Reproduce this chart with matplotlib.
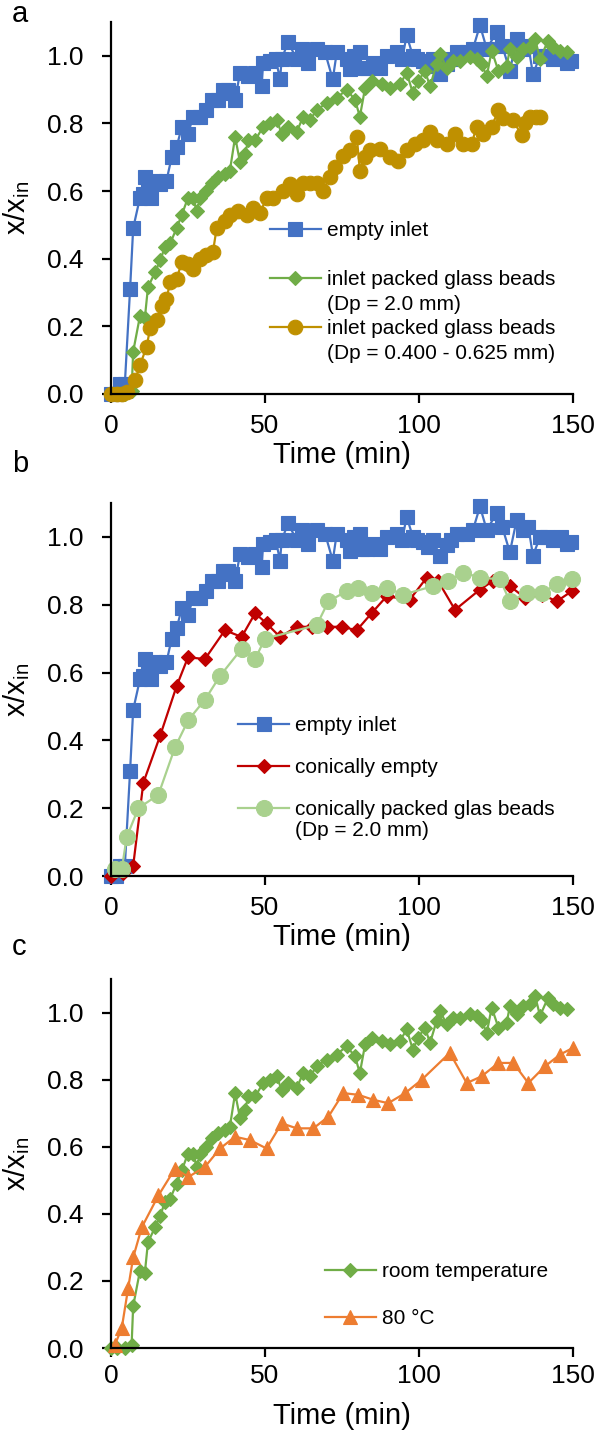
import numpy as np
import matplotlib
matplotlib.use("Agg")
import matplotlib.pyplot as plt
from matplotlib.lines import Line2D
from matplotlib.ticker import FormatStrFormatter

plt.rcParams['font.family'] = ['Liberation Sans', 'DejaVu Sans']
plt.rcParams['mathtext.default'] = 'regular'

# ---- data (time in min, x/x_in) ----
t_empty = [0, 1.5, 3, 4.5, 6.2, 7.2, 9.4, 10.5, 11, 12, 13, 14.3, 16, 18, 19.7, 21.3, 23, 25,
           26.7, 29, 31, 32.7, 34.8, 36.4, 38, 39.2, 40.3, 41.9, 44.6, 46.8, 48.9, 49.4, 51.6,
           53.5, 54.9, 55.4, 57.5, 60.3, 61.9, 64, 66.8, 69.5, 72, 73.3, 76.5, 77.6, 79, 80.8,
           81.4, 83, 85, 87.3, 89.5, 92.8, 94.5, 96, 98, 99.5, 101.3, 103, 104.5, 106.8, 109,
           110.5, 112.2, 115.5, 117.5, 119.8, 122, 125.2, 127, 129.5, 131.7, 133.8, 135.5, 137,
           139.3, 141.5, 143.5, 146, 148, 149.5]
x_empty = [0.0, 0.0, 0.03, 0.03, 0.31, 0.49, 0.58, 0.59, 0.64, 0.62, 0.58, 0.63, 0.62, 0.63, 0.70,
           0.73, 0.79, 0.77, 0.82, 0.82, 0.84, 0.87, 0.87, 0.90, 0.90, 0.89, 0.87, 0.95, 0.94, 0.95,
           0.91, 0.98, 0.985, 0.99, 0.93, 0.99, 1.04, 0.99, 1.02, 0.98, 1.02, 1.01, 0.93, 1.01, 0.99,
           0.96, 1.0, 1.01, 0.965, 0.965, 0.98, 0.965, 1.0, 1.01, 0.99, 1.06, 1.0, 0.99, 0.985, 0.97,
           0.99, 0.945, 0.975, 0.99, 1.01, 1.01, 1.02, 1.09, 1.02, 1.07, 1.03, 0.955, 1.05, 1.02,
           1.03, 0.945, 1.0, 1.0, 0.99, 1.0, 0.98, 0.985]

# inlet packed glass beads Dp = 2.0 mm (same run as "room temperature")
t_beads2 = [0, 2, 4.5, 6.7, 7.2, 9.4, 11, 12, 14.3, 16, 17.5, 19.2, 21.3, 23, 25, 26.7, 27.8, 29,
            31, 32.7, 34.8, 37, 38.6, 40.3, 41.9, 43.5, 44.6, 46.8, 49.4, 51.6, 53.8, 55.4, 57.5,
            60.3, 62.4, 64.6, 66.8, 70, 73.3, 76.5, 79.2, 80.8, 82.5, 84.6, 87.9, 90.6, 93.8, 96,
            98, 99.7, 101.9, 103.6, 105.7, 106.8, 109, 111, 113.3, 116.6, 118.7, 120.3, 122,
            123.6, 125.8, 128.5, 129.5, 131.7, 133.8, 136, 137.7, 139.3, 141.9, 143.5, 145.8, 148]
x_beads2 = [0.0, 0.0, 0.0, 0.01, 0.125, 0.23, 0.225, 0.315, 0.36, 0.395, 0.435, 0.445, 0.49, 0.53,
            0.58, 0.58, 0.54, 0.58, 0.60, 0.625, 0.64, 0.65, 0.66, 0.76, 0.685, 0.71, 0.75, 0.75,
            0.79, 0.80, 0.81, 0.77, 0.79, 0.775, 0.82, 0.81, 0.84, 0.86, 0.875, 0.90, 0.87, 0.82,
            0.905, 0.925, 0.915, 0.905, 0.915, 0.95, 0.89, 0.925, 0.955, 0.91, 0.975, 1.005, 0.965,
            0.985, 0.985, 0.995, 0.99, 0.975, 0.94, 1.015, 0.955, 0.97, 1.02, 0.995, 1.02, 1.025,
            1.05, 0.99, 1.045, 1.025, 1.015, 1.01]

# inlet packed glass beads Dp = 0.400 - 0.625 mm
t_beads04 = [0, 1.9, 3.5, 5.1, 7.8, 9.4, 11.6, 12.7, 14.8, 16.5, 18, 19.2, 21.3, 23, 25, 26.7, 29,
             31, 33.1, 34.3, 37, 38.6, 41.3, 44, 46.1, 48.4, 50.5, 52.6, 55.8, 58.1, 60.3, 62.4,
             64.6, 66.8, 68.8, 71, 72.7, 75.3, 77.6, 79.8, 80.8, 82.5, 84, 87.3, 90.6, 93.2, 96,
             98.7, 101.3, 103.6, 105.7, 109, 111.7, 114.3, 117.1, 118.7, 120.8, 123.6, 125.8,
             127.3, 130.5, 133.3, 134.5, 136, 138, 139.3]
x_beads04 = [0.0, 0.0, 0.0, 0.005, 0.04, 0.085, 0.14, 0.195, 0.22, 0.26, 0.28, 0.33, 0.34, 0.39,
             0.385, 0.37, 0.40, 0.41, 0.42, 0.49, 0.51, 0.53, 0.54, 0.53, 0.55, 0.535, 0.58, 0.58,
             0.60, 0.62, 0.59, 0.625, 0.625, 0.625, 0.60, 0.64, 0.67, 0.705, 0.72, 0.76, 0.66, 0.70,
             0.72, 0.725, 0.70, 0.69, 0.72, 0.74, 0.75, 0.775, 0.75, 0.74, 0.77, 0.74, 0.74, 0.79,
             0.77, 0.79, 0.84, 0.815, 0.81, 0.765, 0.80, 0.82, 0.82, 0.82]

# conically empty
t_con_empty = [0, 4, 7.2, 10.5, 16, 21.3, 25, 30.5, 37, 42.4, 46.8, 50.5, 54.9, 60.3, 65.2, 70,
               74.9, 79.8, 84.6, 89.5, 97, 102.5, 106.2, 111.7, 119.8, 124, 129.5, 134.5, 140,
               144.7, 149.6]
x_con_empty = [0.0, 0.01, 0.03, 0.275, 0.415, 0.56, 0.645, 0.64, 0.725, 0.705, 0.775, 0.745, 0.705,
               0.735, 0.735, 0.735, 0.735, 0.725, 0.775, 0.825, 0.815, 0.88, 0.87, 0.785, 0.845,
               0.87, 0.855, 0.82, 0.83, 0.81, 0.84]

# conically packed glass beads Dp = 2.0 mm
t_con_beads = [1.3, 3.5, 5.1, 8.9, 15.4, 20.8, 25.1, 30.5, 35.4, 42.4, 46.8, 50, 66.8, 70.6, 76.5,
               80.3, 84.6, 89.5, 94.9, 104.6, 109.5, 114.4, 119.8, 126.3, 129.5, 135, 139.8,
               144.7, 149.6]
x_con_beads = [0.02, 0.02, 0.115, 0.20, 0.24, 0.38, 0.46, 0.52, 0.59, 0.67, 0.64, 0.70, 0.74, 0.81,
               0.84, 0.85, 0.835, 0.85, 0.83, 0.855, 0.87, 0.895, 0.88, 0.875, 0.81, 0.835, 0.835,
               0.86, 0.875]

# 80 °C
t_hot = [1.3, 3.5, 5.6, 7.2, 10, 15.4, 20.8, 25.1, 30.5, 35.4, 40.3, 45.1, 50.5, 55.4, 60.3, 65.7,
         70.6, 75.4, 80.3, 85.2, 90, 95.5, 100.9, 110, 115.5, 120.3, 125.8, 130.6, 135.5, 140.9,
         145.8, 150]
x_hot = [0.01, 0.06, 0.18, 0.27, 0.36, 0.455, 0.535, 0.51, 0.54, 0.595, 0.63, 0.62, 0.595, 0.67,
         0.655, 0.655, 0.69, 0.76, 0.755, 0.74, 0.73, 0.76, 0.80, 0.88, 0.79, 0.81, 0.85, 0.85,
         0.79, 0.84, 0.875, 0.895]

BLUE = '#4472C4'
GREEN = '#70AD47'
GOLD = '#BF9000'
RED = '#C00000'
LGREEN = '#A9D18E'
ORANGE = '#ED7D31'

fig = plt.figure(figsize=(5.98, 14.43), dpi=100)
ax_a = fig.add_axes([0.1856, 0.7270, 0.7726, 0.2578])
ax_b = fig.add_axes([0.1856, 0.3929, 0.7726, 0.2585])
ax_c = fig.add_axes([0.1856, 0.0658, 0.7726, 0.2557])


def series(ax, t, x, color, marker, ms):
    line, = ax.plot(t, x, color=color, lw=1.6, marker=marker, ms=ms, mfc=color, mec=color,
                    mew=0.8, clip_on=False)
    return line


def style(ax, xpad=8, labelpad=2):
    ax.set_xlim(0, 150)
    ax.set_ylim(0, 1.1)
    ax.set_xticks([0, 50, 100, 150])
    ax.set_yticks(np.arange(0, 1.01, 0.2))
    ax.yaxis.set_major_formatter(FormatStrFormatter('%.1f'))
    for s in ['top', 'right']:
        ax.spines[s].set_visible(False)
    for s in ['left', 'bottom']:
        ax.spines[s].set_linewidth(1.6)
    ax.tick_params(direction='out', length=6.5, width=1.6, labelsize=19)
    ax.tick_params(axis='y', pad=13)
    ax.tick_params(axis='x', pad=xpad)
    ax.set_xlabel('Time (min)', fontsize=21, labelpad=labelpad)
    ax.set_ylabel('x/x$_{in}$', fontsize=21, labelpad=11)


def legend(ax, handles, labels, anchor, spacing):
    ax.legend(handles, labels, loc='upper left', bbox_to_anchor=anchor, frameon=False,
              fontsize=15, handlelength=2.45, handletextpad=0.3, labelspacing=spacing,
              borderpad=0, borderaxespad=0)


blank = Line2D([], [], linestyle='none')

# ---- a ----
l1 = series(ax_a, t_empty, x_empty, BLUE, 's', 9.5)
l2 = series(ax_a, t_beads2, x_beads2, GREEN, 'D', 7.5)
l3 = series(ax_a, t_beads04, x_beads04, GOLD, 'o', 10.5)
style(ax_a)
legend(ax_a, [l1, blank, l2, blank, l3, blank],
       ['empty inlet', ' ', 'inlet packed glass beads', '(Dp = 2.0 mm)',
        'inlet packed glass beads', '(Dp = 0.400 - 0.625 mm)'],
       (0.344, 0.465), 0.27)

# ---- b ----
m1 = series(ax_b, t_empty, x_empty, BLUE, 's', 9.5)
m2 = series(ax_b, t_con_empty, x_con_empty, RED, 'D', 7.0)
m3 = series(ax_b, t_con_beads, x_con_beads, LGREEN, 'o', 11.5)
style(ax_b)
legend(ax_b, [m1, blank, m2, blank, m3, blank],
       ['empty inlet', ' ', 'conically empty', ' ', 'conically packed glas beads',
        '(Dp = 2.0 mm)'],
       (0.275, 0.429), 0.1)

# ---- c ----
n1 = series(ax_c, t_beads2, x_beads2, GREEN, 'D', 7.5)
n2 = series(ax_c, t_hot, x_hot, ORANGE, '^', 10.5)
style(ax_c, xpad=5, labelpad=10)
legend(ax_c, [n1, blank, n2], ['room temperature', ' ', '80 °C'], (0.463, 0.233), 0.22)

for letter, y in [('a', 0.9848), ('b', 0.673), ('c', 0.338)]:
    fig.text(0.02, y, letter, fontsize=21, va='baseline')

fig.savefig('out.png', dpi=100)
